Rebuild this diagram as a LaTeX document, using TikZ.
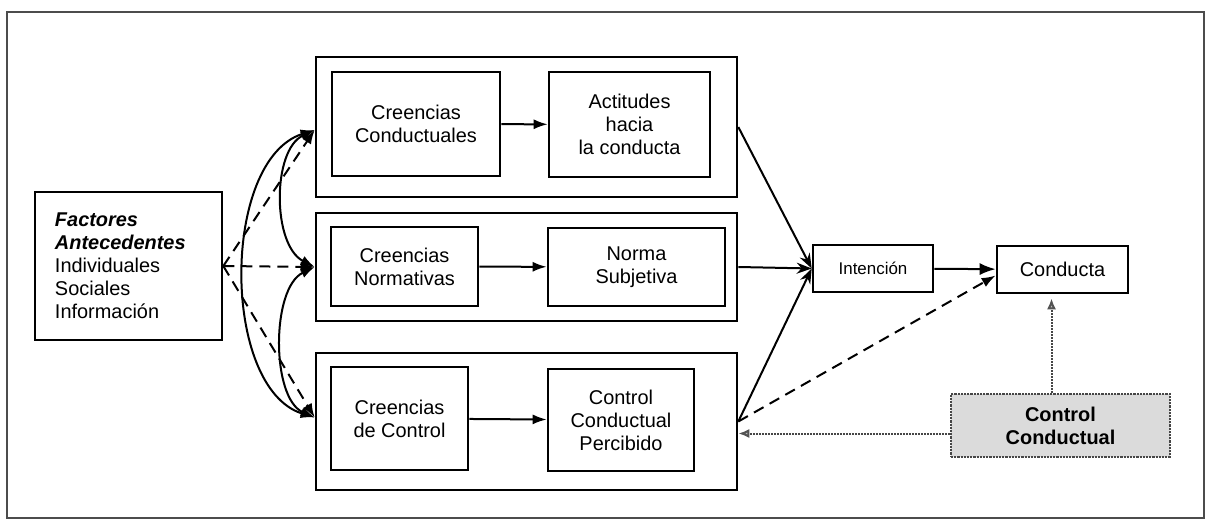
\documentclass[tikz,border=0pt]{standalone}
\usepackage{fontspec}
\setmainfont{Liberation Sans}
\usetikzlibrary{arrows.meta,calc}
\begin{document}
\begin{tikzpicture}[x=1bp,y=-1bp,
  txt/.style={font=\fontsize{20}{23}\selectfont},
  box/.style={draw,line width=2.6bp,align=center,inner sep=0pt,txt},
  group/.style={draw,line width=2.6bp,inner sep=0pt},
  blacktip/.style={-{Latex[length=14bp,width=10bp]}},
  link/.style={line width=2bp,blacktip},
  dashline/.style={line width=2bp,dash pattern=on 11bp off 7bp},
  gtip/.style={-{Latex[length=11bp,width=9bp,color=gray!65!black,fill=gray!50]}},
  gline/.style={line width=2bp,densely dotted,draw=gray!55!black}
]
\useasboundingbox (0,0) rectangle (1208,521);
\fill[white] (0,0) rectangle (1208,521);
% outer frame
\draw[line width=1.6bp,gray!60!black] (7,12) rectangle (1204,518);

% antecedent factors
\node[draw,line width=2.6bp,txt,minimum width=187bp,minimum height=148bp,
      text width=147bp,inner xsep=20bp,align=left] (fact) at (128.5,266)
  {\textbf{\textit{Factores}}\\\textbf{\textit{Antecedentes}}\\Individuales\\Sociales\\Información};

% three belief groups
\node[group,minimum width=421bp,minimum height=140bp] (g1) at (526.5,127) {};
\node[group,minimum width=421bp,minimum height=108bp] (g2) at (526.5,267) {};
\node[group,minimum width=421bp,minimum height=137bp] (g3) at (526.5,421.5) {};

\node[box,minimum width=168bp,minimum height=104bp] (cc) at (416,124) {Creencias\\Conductuales};
\node[box,minimum width=161bp,minimum height=105bp] (act) at (629.5,124.5) {Actitudes\\hacia\\la conducta};
\node[box,minimum width=147bp,minimum height=79bp] (cn) at (404.5,266.5) {Creencias\\Normativas};
\node[box,minimum width=177bp,minimum height=78bp] (ns) at (636.5,267) {Norma\\Subjetiva};
\node[box,minimum width=137bp,minimum height=103bp] (cdc) at (399.5,418.5) {Creencias\\de Control};
\node[box,minimum width=146bp,minimum height=102bp] (ccp) at (621,420) {Control\\Conductual\\Percibido};

\draw[link] (cc) -- (act);
\draw[link] (cn) -- (ns);
\draw[link] (cdc) -- (ccp);

% intention and behaviour
\node[box,minimum width=120bp,minimum height=47bp,font=\fontsize{17}{20}\selectfont] (int) at (873,268.5) {Intención};
\node[box,minimum width=131bp,minimum height=47bp] (cond) at (1062.5,269.5) {Conducta};

% actual behavioural control
\node[draw=gray!55!black,densely dotted,line width=2.2bp,fill=gray!28,
      minimum width=219bp,minimum height=63bp,inner sep=0pt,align=center,
      font=\bfseries\fontsize{20}{23}\selectfont] (ctrl) at (1060.5,425.5) {Control\\Conductual};

% arrow end points on the group boxes
\coordinate (t1) at ([yshift=-3bp]g1.west);
\coordinate (t2) at (g2.west);
\coordinate (t3) at ([yshift=4bp]g3.west);

% antecedents to the belief groups
\draw[dashline,blacktip] (fact.east) -- (t1);
\draw[dashline,blacktip] (fact.east) -- (t2);
\draw[dashline,blacktip] (fact.east) -- (t3);

% correlations among the beliefs
\draw[line width=2bp,{Latex[length=14bp,width=10bp]}-{Latex[length=14bp,width=10bp]}]
  (t1) .. controls (221,160) and (221,388) .. (t3);
\draw[line width=2bp,{Latex[length=14bp,width=10bp]}-{Latex[length=14bp,width=10bp]}]
  (t1) .. controls (272,150) and (272,245) .. (t2);
\draw[line width=2bp,{Latex[length=14bp,width=10bp]}-{Latex[length=14bp,width=10bp]}]
  (t2) .. controls (271,288) and (271,398) .. (t3);

% groups to intention
\draw[line width=2bp,-{Stealth[length=15bp,width=11bp]}] (g1.east) -- (int.west);
\draw[line width=2bp,-{Stealth[length=15bp,width=11bp]}] (g2.east) -- (int.west);
\draw[line width=2bp,-{Stealth[length=15bp,width=11bp]}] (g3.east) -- (int.west);

\draw[line width=2bp,-{Latex[length=16bp,width=12bp]}] (int) -- (cond);
\draw[dashline,blacktip] (g3.east) -- ([yshift=-6bp]cond.west);

% actual control feeds perceived control and behaviour
\coordinate (cl) at ([yshift=-8bp]ctrl.west);
\coordinate (cu) at ([xshift=-9bp]ctrl.north);
\draw[gline,gtip] (cl) -- (cl -| g3.east);
\draw[gline,gtip,shorten >=4bp] (cu) -- (cu |- cond.south);
\end{tikzpicture}
\end{document}
